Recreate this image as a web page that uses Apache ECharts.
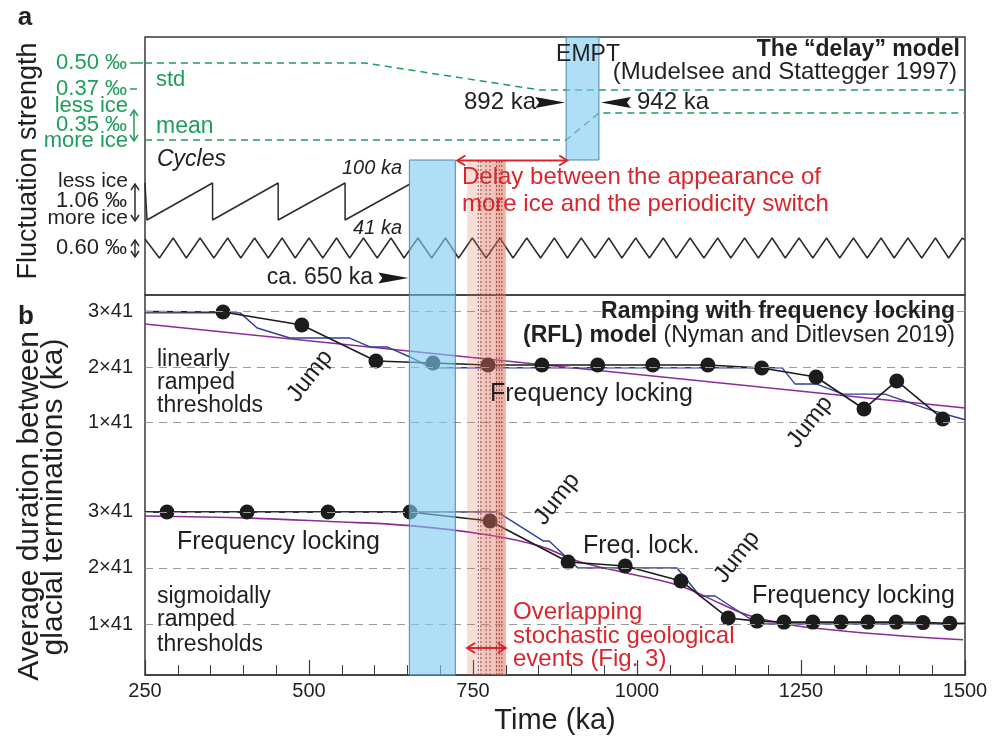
<!DOCTYPE html>
<html><head><meta charset="utf-8">
<script src="https://cdn.jsdelivr.net/npm/echarts@6/dist/echarts.min.js"></script>
<style>html,body{margin:0;padding:0;background:#fff}#c{width:1005px;height:740px}</style>
</head><body><div id="c"></div>
<script>
// ---------------- DATA ----------------
const X_TICKS = [250, 500, 750, 1000, 1250, 1500];
const Y_TICKS_B = [41, 82, 123];            // 1×41, 2×41, 3×41 ka

// Panel a (schematic levels)
const stdLine  = [[250,232],[585,232],[852,205],[1500,205]];
const meanLine = [[250,155],[892,155],[942,182],[1500,182]];
const cycles100 = [[250,112],[253,112],[253,75],[353,112],[353,75],[453,112],[453,75],[555,112],[555,75],[654,111]];
const cycles41 = [[250,56],[251,57],[272,37],[293,57],[313,37],[334,57],[355,37],[376,57],[396,37],[417,57],[438,37],[459,57],[479,37],[500,57],[521,37],[542,57],[562,37],[583,57],[604,37],[625,57],[645,37],[666,57],[687,37],[708,57],[728,37],[749,57],[770,37],[791,57],[811,37],[832,57],[853,37],[874,57],[894,37],[915,57],[936,37],[957,57],[977,37],[998,57],[1019,37],[1040,57],[1060,37],[1081,57],[1102,37],[1123,57],[1143,37],[1164,57],[1185,37],[1206,57],[1226,37],[1247,57],[1268,37],[1289,57],[1309,37],[1330,57],[1351,37],[1372,57],[1392,37],[1413,57],[1434,37],[1455,57],[1475,37],[1496,57],[1500,55]];

// Events / intervals (ka)
const blueBand  = [653, 723];
const emptBand  = [892, 942];
const redBands  = [[741,800],[761,800],[784,800]];
const eventLines = [758, 762, 770, 776, 786, 790, 794];

// Panel b: linearly ramped thresholds (ka)
const linDots = [[369,122.6],[489,113],[602,86.4],[689,85],[773,83.5],[855,83.5],[940,83.5],[1024,83.5],[1108,83.5],[1190,81.3],[1273,74.6],[1346,51],[1396,71.7],[1466,43.6]];
const linStart = [250,123];
const linBlue = [[250,122],[395,122],[421,110.8],[471,103.4],[562,103.4],[593,96.8],[619,96.8],[654,89.4],[684,82],[700,81.5],[1221,81.5],[1241,69.4],[1274,69.4],[1314,62],[1378,62],[1447,50.3],[1500,43]];
const linRamp = [[250,113.8],[1500,51.7]];

// Panel b: sigmoidally ramped thresholds (ka)
const sigDots = [[283.5,123],[405.5,123],[529,123],[654,123],[776,116.4],[895,86.4],[982,83.5],[1067,72.5],[1139,45.4],[1183,43.1],[1224,42.4],[1268,42.4],[1311,42.4],[1352,42.4],[1395,42.4],[1436,42],[1477,41.5]];
const sigStart = [250,123], sigEnd = [1500,41.5];
const sigBlue = [[250,123],[787,123],[857,101.8],[866,101.8],[910,82],[1061,82],[1096,61.5],[1119,61.5],[1168,46.1],[1188,41],[1500,41]];
const sigRamp = [[250,120],[410,118.5],[532,116],[654,113],[776,106],[852,98],[910,87],[982,78.5],[1066,68.8],[1127,56],[1172,47],[1233,40.5],[1299,36.6],[1401,32.4],[1497,29.5]];

// ---------------- STYLE ----------------
const FONT = '"Liberation Sans", Arial, Helvetica, sans-serif';
const C_TXT = '#231f20', C_GREEN = '#1f9e5a', C_RED = '#d8262c', C_FRAME = '#3a3a3a';
const C_BLACK = '#1c1c1c', C_BLUE = '#2f3f98', C_PURPLE = '#8d2c97';
const LEVEL_TOP_A = 258, LEVEL_BAR_A = 135;

const chart = echarts.init(document.getElementById('c'));

function bandItem(params, api) {
  const p0 = api.coord([api.value(0), api.value(2)]);
  const p1 = api.coord([api.value(1), api.value(3)]);
  const kind = api.value(4);
  const style = kind === 0
    ? {fill:'rgba(128,202,240,0.62)', stroke:'#4a88ad', lineWidth:1}
    : {fill:'rgba(224,118,96,0.24)'};
  return {type:'rect', shape:{x:p0[0], y:p1[1], width:p1[0]-p0[0], height:p0[1]-p1[1]}, style};
}
function eventItem(params, api) {
  const a = api.coord([api.value(0), api.value(1)]);
  const b = api.coord([api.value(0), api.value(2)]);
  return {type:'line', shape:{x1:a[0], y1:a[1], x2:b[0], y2:b[1]}, style:{stroke:'#7a3b3b', lineWidth:0.8, lineDash:[2,2]}};
}
const bandsA = [[blueBand[0], blueBand[1], 0, LEVEL_BAR_A, 0], [emptBand[0], emptBand[1], LEVEL_BAR_A, LEVEL_TOP_A, 0]]
  .concat(redBands.map(b => [b[0], b[1], 0, LEVEL_BAR_A, 1]));
const bandsB = [[blueBand[0], blueBand[1], 0, 1, 0]].concat(redBands.map(b => [b[0], b[1], 0, 1, 1]));

const yLabelB = {
  customValues: Y_TICKS_B, fontSize: 20, color: C_TXT, fontFamily: FONT, margin: 12,
  formatter: v => Y_TICKS_B.includes(v) ? (v/41) + '×41' : ''
};
const dashGrid = {silent:true, symbol:'none', label:{show:false},
  lineStyle:{type:[8,6], color:'#9a9a9a', width:1}, data: Y_TICKS_B.map(v => ({yAxis:v}))};

const hiddenX = i => ({gridIndex:i, type:'value', min:250, max:1500, show:false});

const option = {
  animation: false,
  backgroundColor: '#fff',
  textStyle: {fontFamily: FONT},
  grid: [
    {left:145, right:40, top:37, height:258, show:true, borderColor:C_FRAME, borderWidth:1.5},
    {left:145, right:40, top:295, height:385, show:true, borderColor:C_FRAME, borderWidth:1.5},
    {left:145, right:40, top:295, height:183},
    {left:145, right:40, top:495.3, height:184.7}
  ],
  xAxis: [
    hiddenX(0),
    {gridIndex:1, type:'value', min:250, max:1500, interval:250,
     axisLine:{show:true, lineStyle:{color:C_FRAME, width:1.5}},
     axisTick:{show:true, inside:true, length:15, lineStyle:{color:C_FRAME, width:1.2}},
     minorTick:{show:true, splitNumber:5, length:10, lineStyle:{color:C_FRAME, width:1}},
     splitLine:{show:false},
     axisLabel:{fontSize:20, color:C_TXT, fontFamily:FONT, margin:6,
       formatter: v => X_TICKS.includes(v) ? String(v) : ''},
     name:'Time (ka)', nameLocation:'middle', nameGap:30,
     nameTextStyle:{fontSize:29, color:C_TXT, fontFamily:FONT}},
    hiddenX(2), hiddenX(3)
  ],
  yAxis: [
    {gridIndex:0, type:'value', min:0, max:LEVEL_TOP_A, show:false},
    {gridIndex:1, type:'value', min:0, max:1, show:false},
    {gridIndex:2, type:'value', min:0, max:135.2, interval:41, axisLine:{show:false}, axisTick:{show:false}, splitLine:{show:false}, axisLabel:yLabelB},
    {gridIndex:3, type:'value', min:0, max:135.2, interval:41, axisLine:{show:false}, axisTick:{show:false}, splitLine:{show:false}, axisLabel:yLabelB}
  ],
  series: [
    // ---- panel a ----
    {type:'line', xAxisIndex:0, yAxisIndex:0, data:stdLine, symbol:'none', z:2,
     lineStyle:{color:C_GREEN, width:1.5, type:[7,5]}},
    {type:'line', xAxisIndex:0, yAxisIndex:0, data:meanLine, symbol:'none', z:2,
     lineStyle:{color:C_GREEN, width:1.5, type:[7,5]}},
    {type:'line', xAxisIndex:0, yAxisIndex:0, data:cycles100, symbol:'none', z:2,
     lineStyle:{color:'#2b2b2b', width:1.5}},
    {type:'line', xAxisIndex:0, yAxisIndex:0, data:cycles41, symbol:'none', z:2,
     lineStyle:{color:'#2b2b2b', width:1.5}},
    {type:'custom', xAxisIndex:0, yAxisIndex:0, data:bandsA, renderItem:bandItem, z:5, silent:true},
    {type:'custom', xAxisIndex:0, yAxisIndex:0, data:eventLines.map(x => [x, 0, LEVEL_BAR_A]), renderItem:eventItem, z:6, silent:true},
    // ---- panel b frame bands ----
    {type:'custom', xAxisIndex:1, yAxisIndex:1, data:bandsB, renderItem:bandItem, z:5, silent:true},
    {type:'custom', xAxisIndex:1, yAxisIndex:1, data:eventLines.map(x => [x, 0, 1]), renderItem:eventItem, z:6, silent:true},
    // ---- panel b upper (linear) ----
    {type:'line', xAxisIndex:2, yAxisIndex:2, data:[], symbol:'none', markLine:dashGrid, z:1},
    {type:'line', xAxisIndex:2, yAxisIndex:2, data:linRamp, symbol:'none', z:2, lineStyle:{color:C_PURPLE, width:1.6}},
    {type:'line', xAxisIndex:2, yAxisIndex:2, data:linBlue, symbol:'none', z:2, lineStyle:{color:C_BLUE, width:1.4}},
    {type:'line', xAxisIndex:2, yAxisIndex:2, data:[linStart].concat(linDots), symbol:'none', z:3, lineStyle:{color:C_BLACK, width:1.6}},
    {type:'scatter', xAxisIndex:2, yAxisIndex:2, data:linDots, symbolSize:15, z:4, itemStyle:{color:C_BLACK, opacity:1}},
    // ---- panel b lower (sigmoid) ----
    {type:'line', xAxisIndex:3, yAxisIndex:3, data:[], symbol:'none', markLine:dashGrid, z:1},
    {type:'line', xAxisIndex:3, yAxisIndex:3, data:sigRamp, symbol:'none', smooth:0.4, z:2, lineStyle:{color:C_PURPLE, width:1.6}},
    {type:'line', xAxisIndex:3, yAxisIndex:3, data:sigBlue, symbol:'none', z:2, lineStyle:{color:C_BLUE, width:1.4}},
    {type:'line', xAxisIndex:3, yAxisIndex:3, data:[sigStart].concat(sigDots, [sigEnd]), symbol:'none', z:3, lineStyle:{color:C_BLACK, width:1.6}},
    {type:'scatter', xAxisIndex:3, yAxisIndex:3, data:sigDots, symbolSize:15, z:4, itemStyle:{color:C_BLACK, opacity:1}}
  ]
};
chart.setOption(option);

// ---------------- ANNOTATIONS ----------------
const px = v => chart.convertToPixel({xAxisIndex:1}, v);
function T(x, y, text, size, o) {
  o = o || {};
  return {type:'text', x, y, z:100, rotation:o.rot || 0,
    style:{text, fill:o.color || C_TXT, fontFamily:FONT, fontSize:size,
      fontWeight:o.bold ? 'bold' : 'normal', fontStyle:o.italic ? 'italic' : 'normal',
      align:o.align || 'left', verticalAlign:'middle', rich:o.rich}};
}
function seg(x1, y1, x2, y2, color, w) {
  return {type:'line', z:100, shape:{x1, y1, x2, y2}, style:{stroke:color, lineWidth:w || 1.5}};
}
function head(pts, color, w) {
  return {type:'polyline', z:100, shape:{points:pts}, style:{stroke:color, lineWidth:w || 1.5, fill:null}};
}
function dblH(x1, x2, y, color) {
  return [seg(x1, y, x2, y, color, 2), head([[x1+8,y-5],[x1,y],[x1+8,y+5]], color, 2), head([[x2-8,y-5],[x2,y],[x2-8,y+5]], color, 2)];
}
function dblV(x, y1, y2, color) {
  return [seg(x, y1, x, y2, color, 1.5), head([[x-4,y1+6],[x,y1],[x+4,y1+6]], color, 1.5), head([[x-4,y2-6],[x,y2],[x+4,y2-6]], color, 1.5)];
}
function tri(tip, y, dir) {
  const b = tip - dir*30;
  return {type:'polygon', z:100, shape:{points:[[b, y-5.5],[tip, y],[b, y+5.5],[b+dir*4, y]]}, style:{fill:'#1a1a1a'}};
}
const ROT90 = Math.PI/2, RJ = 52*Math.PI/180;
const els = [
  T(25, 18, 'a', 26, {bold:true, align:'center'}),
  T(29, 161, 'Fluctuation strength', 27, {rot:ROT90, align:'center'}),
  T(127, 63, '0.50 ‰', 22, {align:'right', color:C_GREEN}),
  T(127, 89, '0.37 ‰', 22, {align:'right', color:C_GREEN}),
  T(128, 106, 'less ice', 22, {align:'right', color:C_GREEN}),
  T(127, 125, '0.35 ‰', 22, {align:'right', color:C_GREEN}),
  T(128, 141, 'more ice', 22, {align:'right', color:C_GREEN}),
  T(128, 181, 'less ice', 21, {align:'right'}),
  T(127, 201, '1.06 ‰', 22, {align:'right'}),
  T(128, 218, 'more ice', 21, {align:'right'}),
  T(127, 248, '0.60 ‰', 22, {align:'right'}),
  seg(130, 63, 143, 63, C_GREEN, 1.5),
  seg(130, 89, 137, 89, C_GREEN, 1.5),
  ...dblV(134, 110, 141, C_GREEN),
  ...dblV(135, 184, 221, '#2b2b2b'),
  ...dblV(135, 240, 257, '#2b2b2b'),
  T(156, 80, 'std', 22, {color:C_GREEN}),
  T(156, 127, 'mean', 23, {color:C_GREEN}),
  T(157, 160, 'Cycles', 23, {italic:true}),
  T(402, 168, '100 ka', 20, {italic:true, align:'right'}),
  T(402, 228, '41 ka', 20, {italic:true, align:'right'}),
  T(373, 278, 'ca. 650 ka', 23, {align:'right'}),
  tri(px(blueBand[0]) - 1, 278, 1),
  T(588, 55, 'EMPT', 23, {align:'center'}),
  T(536, 102.5, '892 ka', 24, {align:'right'}),
  tri(px(emptBand[0]) - 1, 102.5, 1),
  tri(px(emptBand[1]) + 2, 102.5, -1),
  T(637, 102.5, '942 ka', 24),
  T(960, 50, 'The “delay” model', 23, {bold:true, align:'right'}),
  T(957, 72, '(Mudelsee and Stattegger 1997)', 24, {align:'right'}),
  ...dblH(px(blueBand[1]) + 2, px(emptBand[0]) + 1, 160.5, C_RED),
  T(462, 177, 'Delay between the appearance of', 24, {color:C_RED}),
  T(462, 204, 'more ice and the periodicity switch', 24, {color:C_RED}),
  // panel b
  T(26, 317, 'b', 26, {bold:true, align:'center'}),
  T(30, 506, 'Average duration between', 30, {rot:ROT90, align:'center'}),
  T(54, 497, 'glacial terminations (ka)', 30, {rot:ROT90, align:'center'}),
  T(955, 312, 'Ramping with frequency locking', 23, {bold:true, align:'right'}),
  T(955, 336, '{b|(RFL) model} (Nyman and Ditlevsen 2019)', 23, {align:'right',
     rich:{b:{fontWeight:'bold', fontSize:23, fontFamily:FONT, fill:C_TXT}}}),
  T(157, 360, 'linearly', 23), T(157, 383, 'ramped', 23), T(157, 406, 'thresholds', 23),
  T(310, 376, 'Jump', 24, {rot:RJ, align:'center'}),
  T(490, 394, 'Frequency locking', 25),
  T(810, 422, 'Jump', 24, {rot:RJ, align:'center'}),
  T(177, 542, 'Frequency locking', 25),
  T(557, 499, 'Jump', 24, {rot:RJ, align:'center'}),
  T(583, 546, 'Freq. lock.', 25),
  T(737, 557, 'Jump', 24, {rot:RJ, align:'center'}),
  T(752, 596, 'Frequency locking', 25),
  T(157, 597, 'sigmoidally', 23), T(157, 620, 'ramped', 23), T(157, 645, 'thresholds', 23),
  ...dblH(px(redBands[0][0]), px(redBands[0][1]), 648, C_RED),
  T(513, 612, 'Overlapping', 24, {color:C_RED}),
  T(513, 636, 'stochastic geological', 24, {color:C_RED}),
  T(513, 659, 'events (Fig. 3)', 24, {color:C_RED})
];
chart.setOption({graphic:{elements:els}});
</script></body></html>
